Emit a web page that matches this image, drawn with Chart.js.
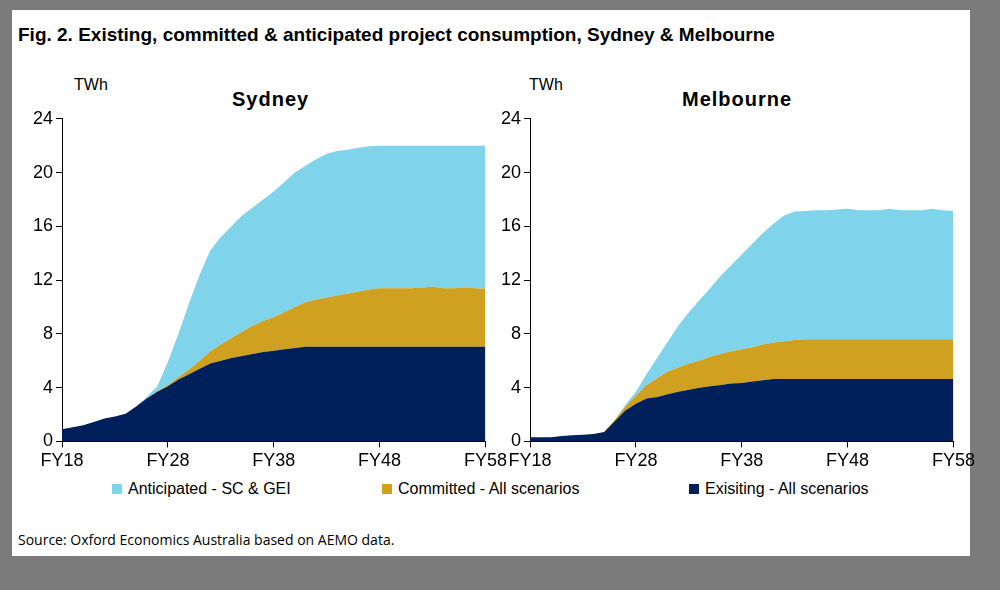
<!DOCTYPE html>
<html>
<head>
<meta charset="utf-8">
<script src="https://cdn.jsdelivr.net/npm/chart.js@4"></script>
<style>
  body { margin: 0; width: 1000px; height: 590px; background: #7b7b7b; font-family: "Liberation Sans", Arial, sans-serif; position: relative; overflow: hidden; }
  #panel { position: absolute; left: 12px; top: 10px; width: 958px; height: 546px; background: #fff; }
  .abs { position: absolute; }
  #title { left: 6px; top: 14px; font-size: 19px; font-weight: bold; color: #000; }
  .ctitle { font-size: 20px; font-weight: bold; top: 78px; letter-spacing: 1px; }
  .unit { font-size: 16px; top: 66px; }
  .cv { top: 95px; width: 480px; height: 370px; }
  #legend { top: 470px; left: 0; width: 958px; font-size: 16px; }
  .li { position: absolute; top: 0; white-space: nowrap; }
  .sw { display: inline-block; width: 10px; height: 10px; margin-right: 6px; }
  #src { left: 6px; top: 520px; font-size: 14px; font-family: "Open Sans", sans-serif; }
</style>
</head>
<body>
<div id="panel">
  <div id="title" class="abs">Fig. 2. Existing, committed &amp; anticipated project consumption, Sydney &amp; Melbourne</div>
  <div class="abs unit" style="left:62px">TWh</div>
  <div class="abs ctitle" style="left:220px">Sydney</div>
  <div class="abs unit" style="left:517px">TWh</div>
  <div class="abs ctitle" style="left:670px">Melbourne</div>
  <div class="abs cv" style="left:18px"><canvas id="syd"></canvas></div>
  <div class="abs cv" style="left:486px"><canvas id="mel"></canvas></div>
  <div id="legend" class="abs">
    <span class="li" style="left:100px"><span class="sw" style="background:#7fd4ec"></span>Anticipated - SC &amp; GEI</span>
    <span class="li" style="left:370px"><span class="sw" style="background:#d0a020"></span>Committed - All scenarios</span>
    <span class="li" style="left:677px"><span class="sw" style="background:#00205b"></span>Exisiting - All scenarios</span>
  </div>
  <div id="src" class="abs">Source: Oxford Economics Australia based on AEMO data.</div>
</div>
<script>
// financial years FY18..FY58
const years = [18,19,20,21,22,23,24,25,26,27,28,29,30,31,32,33,34,35,36,37,38,39,40,41,42,43,44,45,46,47,48,49,50,51,52,53,54,55,56,57,58];
const tickYears = [18, 28, 38, 48, 58];

// cumulative (stacked) levels, TWh
const sydExisting = [0.9,1.05,1.2,1.45,1.7,1.85,2.05,2.6,3.2,3.7,4.1,4.6,5.0,5.4,5.8,6.0,6.2,6.35,6.5,6.65,6.75,6.85,6.95,7.05,7.05,7.05,7.05,7.05,7.05,7.05,7.05,7.05,7.05,7.05,7.05,7.05,7.05,7.05,7.05,7.05,7.05];
const sydCommitted = [0.9,1.05,1.2,1.45,1.7,1.85,2.05,2.6,3.2,3.75,4.2,4.8,5.35,6.0,6.7,7.2,7.7,8.15,8.6,8.95,9.25,9.6,10.0,10.35,10.55,10.7,10.85,11.0,11.15,11.3,11.4,11.4,11.4,11.4,11.45,11.5,11.4,11.4,11.45,11.4,11.35];
const sydTotal = [0.9,1.05,1.2,1.45,1.7,1.85,2.05,2.6,3.3,4.1,5.9,8.0,10.3,12.4,14.2,15.2,16.0,16.8,17.4,18.0,18.6,19.3,20.0,20.5,21.0,21.4,21.6,21.7,21.85,21.95,22.0,22.0,22.0,22.0,22.0,22.0,22.0,22.0,22.0,22.0,22.0];

const melExisting = [0.3,0.3,0.3,0.4,0.45,0.5,0.55,0.7,1.5,2.3,2.8,3.2,3.3,3.5,3.7,3.85,4.0,4.1,4.2,4.3,4.35,4.45,4.55,4.65,4.65,4.65,4.65,4.65,4.65,4.65,4.65,4.65,4.65,4.65,4.65,4.65,4.65,4.65,4.65,4.65,4.65];
const melCommitted = [0.3,0.3,0.3,0.4,0.45,0.5,0.55,0.7,1.6,2.6,3.4,4.2,4.7,5.2,5.5,5.8,6.0,6.3,6.5,6.7,6.85,7.0,7.2,7.35,7.45,7.55,7.6,7.6,7.6,7.6,7.6,7.6,7.6,7.6,7.6,7.6,7.6,7.6,7.6,7.6,7.6];
const melTotal = [0.3,0.3,0.3,0.4,0.45,0.5,0.55,0.7,1.6,2.7,3.7,5.0,6.2,7.4,8.6,9.6,10.5,11.4,12.3,13.1,13.9,14.7,15.5,16.2,16.8,17.1,17.15,17.2,17.2,17.25,17.3,17.2,17.2,17.2,17.3,17.2,17.2,17.2,17.3,17.2,17.15];

const COLORS = { existing: "#00205b", committed: "#d0a020", anticipated: "#7fd4ec" };

function pts(vals) {
  return years.map((y, i) => ({ x: y, y: vals[i] }));
}

function renderChart(id, existing, committed, total) {
  const tickFont = { family: "Liberation Sans", size: 18 };
  new Chart(document.getElementById(id), {
    type: "line",
    data: {
      datasets: [
        { data: pts(existing), fill: "origin", backgroundColor: COLORS.existing },
        { data: pts(committed), fill: "-1", backgroundColor: COLORS.committed },
        { data: pts(total), fill: "-1", backgroundColor: COLORS.anticipated },
      ].map((d) => ({ ...d, borderWidth: 0, pointRadius: 0, tension: 0 })),
    },
    options: {
      responsive: true,
      maintainAspectRatio: false,
      animation: false,
      layout: { padding: { right: 22, top: 8 } },
      plugins: { legend: { display: false }, tooltip: { enabled: false } },
      scales: {
        x: {
          type: "linear",
          min: 18,
          max: 58,
          afterBuildTicks: (ax) => { ax.ticks = tickYears.map((v) => ({ value: v })); },
          ticks: { color: "#000", font: tickFont, maxRotation: 0, callback: (v) => "FY" + v },
          grid: { drawOnChartArea: false, color: "#000", tickLength: 6 },
          border: { color: "#000" },
        },
        y: {
          min: 0,
          max: 24,
          ticks: { stepSize: 4, color: "#000", font: tickFont },
          grid: { drawOnChartArea: false, color: "#000", tickLength: 6 },
          border: { color: "#000" },
        },
      },
    },
  });
}

renderChart("syd", sydExisting, sydCommitted, sydTotal);
renderChart("mel", melExisting, melCommitted, melTotal);
</script>
</body>
</html>
